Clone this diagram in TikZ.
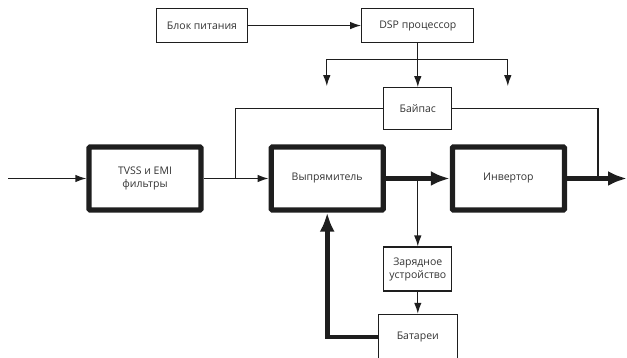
\documentclass[tikz,border=0pt]{standalone}
\usepackage{fontspec}
\setmainfont{Open Sans}
\usepackage{tikz}
\usetikzlibrary{arrows.meta, positioning, calc}
\definecolor{ink}{HTML}{1E1E1E}
\definecolor{txt}{HTML}{333333}
\tikzstyle{arrow} = [->, >={Latex[length=11pt,width=7.5pt]}, line width=1.3pt, draw=ink]
\tikzstyle{thick-arrow} = [->, >={Latex[length=19pt,width=15pt]}, line width=4.6pt, draw=ink]
\tikzstyle{line} = [line width=1.3pt, draw=ink]
\tikzstyle{thinbox} = [rectangle, draw=ink, line width=1.3pt, align=center, text=txt, font=\fontsize{10.5}{13}\selectfont]
\tikzstyle{thickbox} = [rectangle, draw=ink, line width=5.2pt, rounded corners=1pt, minimum width=112pt, minimum height=63pt, align=center, text=txt, font=\fontsize{10.5}{13}\selectfont]

\begin{document}
\begin{tikzpicture}
  \useasboundingbox (-145pt,-179.5pt) rectangle (482pt,178.5pt);

  % Nodes
  \node (tvss) [thickbox] {TVSS и EMI\\фильтры};
  \node (rect) [thickbox, right=65pt of tvss] {Выпрямитель};
  \node (inv) [thickbox, right=64pt of rect] {Инвертор};
  \coordinate (mid) at ($(rect.east)!0.5!(inv.west)$);
  \node (bypass) [thinbox, minimum width=68pt, minimum height=42pt, above=48pt of mid] {Байпас};
  \node (dsp) [thinbox, minimum width=112pt, minimum height=34pt, above=44pt of bypass] {DSP процессор};
  \node (psu) [thinbox, minimum width=91pt, minimum height=34pt, left=113pt of dsp] {Блок питания};
  \node (charger) [thinbox, minimum width=68pt, minimum height=44pt, below=68pt of mid] {Зарядное\\устройство};
  \node (batt) [thinbox, minimum width=79pt, minimum height=45pt, below=22pt of charger] {Батареи};

  % Free ends
  \coordinate (in) at ($(tvss.west)+(-78pt,0)$);
  \coordinate (out) at ($(inv.east)+(60pt,0)$);
  \coordinate (j1) at ($(tvss.east)+(32pt,0)$);
  \coordinate (j2) at ($(inv.east)+(31pt,0)$);
  \coordinate (br) at ($(dsp.south)+(0,-16pt)$);
  \coordinate (dleft) at ($(br)+(-91pt,-27pt)$);
  \coordinate (dright) at ($(br)+(90pt,-27pt)$);

  % Arrows
  \draw[arrow] (in) -- (tvss);
  \draw[arrow] (tvss) -- (rect);
  \draw[thick-arrow] (rect) -- (inv);
  \draw[thick-arrow] (inv) -- (out);
  \draw[arrow] (psu) -- (dsp);
  \draw[arrow] (dsp) -- (bypass);
  \draw[arrow] (br) -| (dleft);
  \draw[arrow] (br) -| (dright);
  \draw[line] (bypass.west) -| (j1);
  \draw[line] (bypass.east) -| (j2);
  \draw[arrow] (mid) -- (charger);
  \draw[arrow] (charger) -- (batt);
  \draw[thick-arrow] (batt.west) -| (rect.south);

\end{tikzpicture}
\end{document}
